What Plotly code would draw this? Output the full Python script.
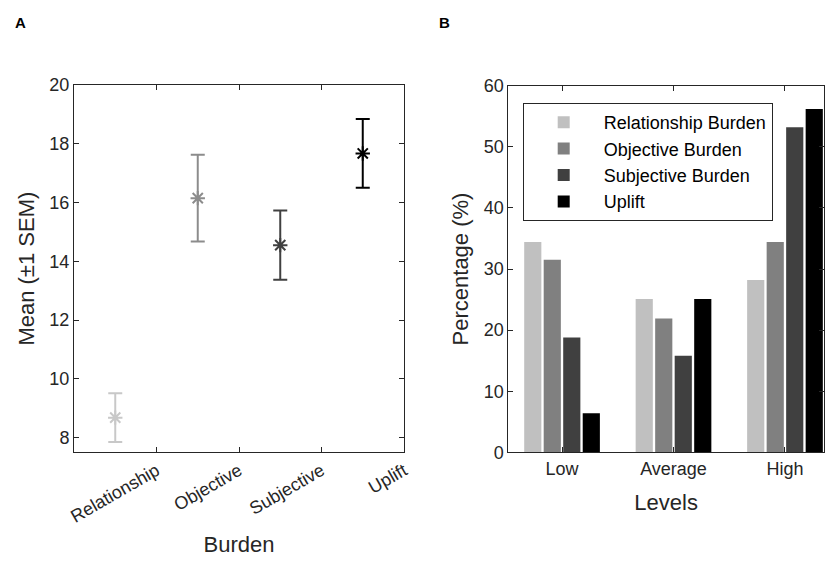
import plotly.graph_objects as go

# Panel A data
burden_labels = ["Relationship", "Objective", "Subjective", "Uplift"]
burden_means = [8.68, 16.15, 14.55, 17.67]
burden_sem = [0.83, 1.48, 1.18, 1.17]
burden_colors = ["#c8c8c8", "#8c8c8c", "#404040", "#000000"]

# Panel B data
levels = ["Low", "Average", "High"]
series_names = ["Relationship Burden", "Objective Burden", "Subjective Burden", "Uplift"]
relationship_pct = [34.4, 25.1, 28.2]
objective_pct = [31.5, 21.9, 34.4]
subjective_pct = [18.8, 15.8, 53.2]
uplift_pct = [6.4, 25.1, 56.2]
bar_colors = ["#c0c0c0", "#808080", "#404040", "#000000"]

FONT = "Liberation Sans, Arial, sans-serif"
AX = "#262626"
W, H = 838, 571
OFF = 8  # page body margin


def px_x(x):
    return (x - OFF) / W


def px_y(y):
    return 1 - (y - OFF) / H


fig = go.Figure()

for i, (lab, m, s, c) in enumerate(zip(burden_labels, burden_means, burden_sem, burden_colors)):
    fig.add_trace(go.Scatter(
        x=[i + 1], y=[m], mode="markers", showlegend=False,
        marker=dict(symbol="asterisk-open", size=12, color=c, line=dict(color=c, width=2)),
        error_y=dict(type="data", array=[s], color=c, thickness=2, width=7),
        xaxis="x", yaxis="y"))

series = [relationship_pct, objective_pct, subjective_pct, uplift_pct]
for name, vals, c in zip(series_names, series, bar_colors):
    fig.add_trace(go.Bar(x=[1, 2, 3], y=vals, name=name, marker=dict(color=c, line=dict(width=0)),
                         xaxis="x2", yaxis="y2"))

axis_common = dict(showline=True, linecolor=AX, linewidth=1, mirror="ticks", ticks="inside",
                   ticklen=5, tickcolor=AX, showgrid=False, zeroline=False, automargin=False,
                   tickfont=dict(family=FONT, size=18, color=AX))

fig.update_layout(
    width=W, height=H, margin=dict(l=0, r=0, t=0, b=0),
    paper_bgcolor="white", plot_bgcolor="white",
    barmode="group", bargap=0.3, bargroupgap=0.12,
    xaxis=dict(domain=[px_x(74), px_x(404)], range=[0.5, 4.5], tickvals=[1.5, 2.5, 3.5, 4.5],
               ticktext=burden_labels, tickangle=-30, anchor="y",
               title=dict(text="Burden", font=dict(family=FONT, size=22, color=AX), standoff=10),
               **axis_common),
    yaxis=dict(domain=[px_y(452.3), px_y(85)], range=[7.5, 20], tickvals=[8, 10, 12, 14, 16, 18, 20],
               anchor="x",
               title=dict(text="Mean (±1 SEM)", font=dict(family=FONT, size=22, color=AX), standoff=8),
               **axis_common),
    xaxis2=dict(domain=[px_x(508.3), px_x(824)], range=[0.518, 3.35], tickvals=[1, 2, 3], ticktext=levels,
                anchor="y2",
                title=dict(text="Levels", font=dict(family=FONT, size=22, color=AX), standoff=16),
                **axis_common),
    yaxis2=dict(domain=[px_y(452.3), px_y(85.7)], range=[0, 60], tickvals=[0, 10, 20, 30, 40, 50, 60],
                anchor="x2",
                title=dict(text="Percentage (%)", font=dict(family=FONT, size=22, color=AX), standoff=8),
                **axis_common),
    legend=dict(x=px_x(522.7), y=px_y(103), xanchor="left", yanchor="top", bordercolor=AX, borderwidth=1,
                bgcolor="white", font=dict(family=FONT, size=18, color="#000000"),
                tracegroupgap=0, itemwidth=70),
    annotations=[
        dict(text="<b>A</b>", x=px_x(13), y=px_y(22), xref="paper", yref="paper",
             showarrow=False, xanchor="left", yanchor="middle", font=dict(family=FONT, size=15, color="black")),
        dict(text="<b>B</b>", x=px_x(437), y=px_y(22), xref="paper", yref="paper",
             showarrow=False, xanchor="left", yanchor="middle", font=dict(family=FONT, size=15, color="black")),
    ],
)

fig.write_html("out.html")
